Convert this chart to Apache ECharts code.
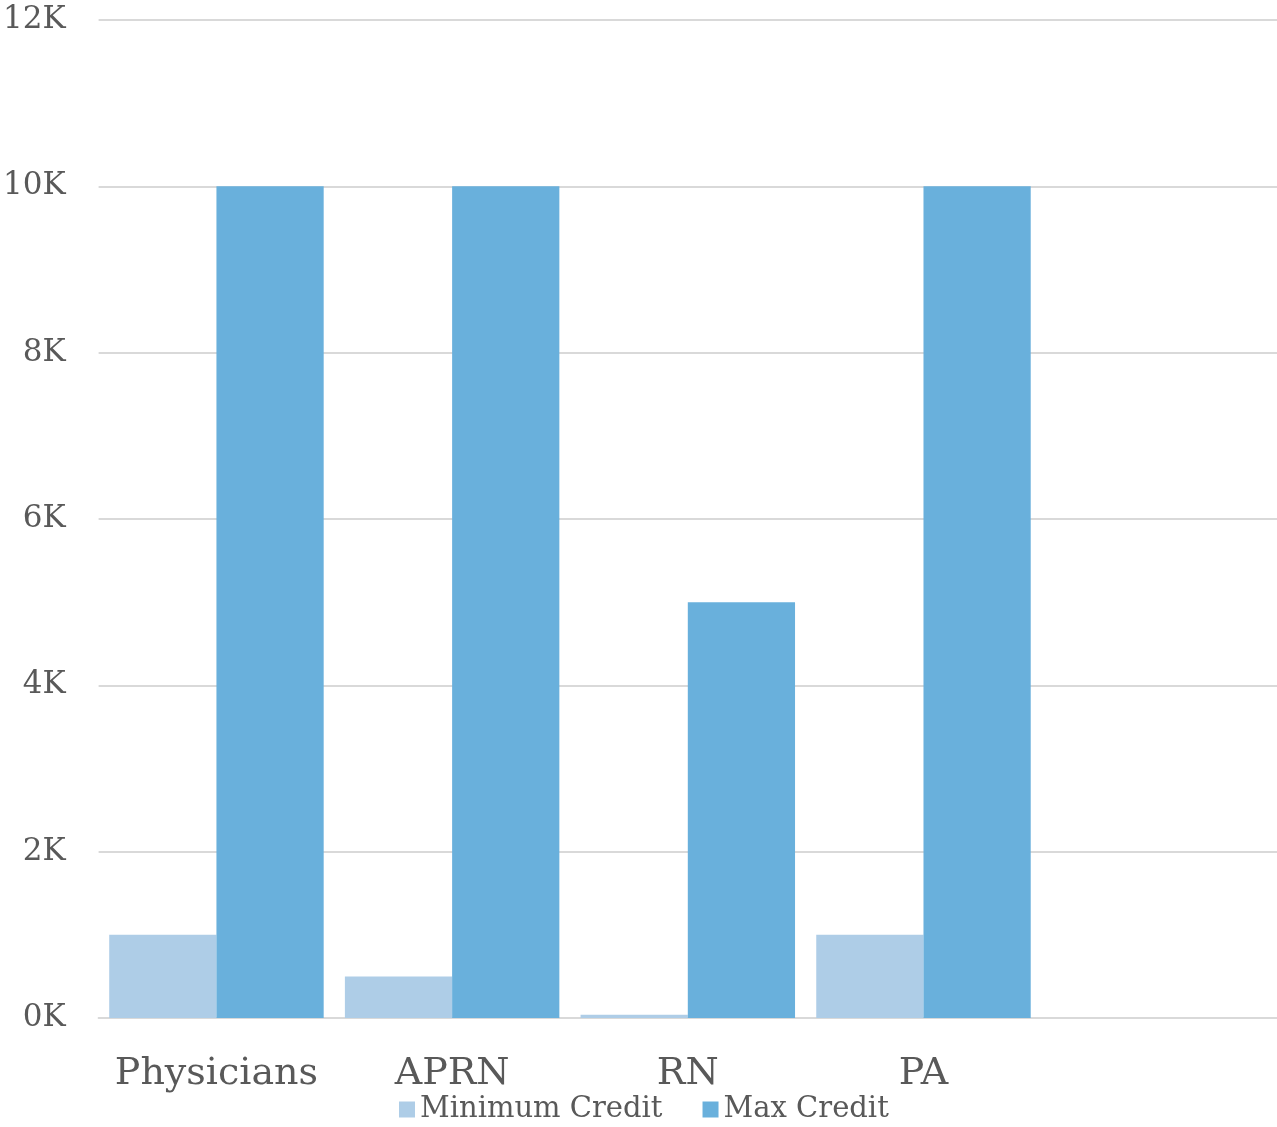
<!DOCTYPE html>
<html><head><meta charset="utf-8">
<script src="https://cdn.jsdelivr.net/npm/echarts@6/dist/echarts.min.js"></script>
<style>html,body{margin:0;padding:0;background:#fff}#c{width:1277px;height:1127px}</style>
</head><body><div id="c"></div>
<script>
const categories = ['Physicians', 'APRN', 'RN', 'PA', ''];
const minCredit = [1000, 500, 40, 1000, null];
const maxCredit = [10000, 10000, 5000, 10000, null];
const yTicks = [0, 2000, 4000, 6000, 8000, 10000, 12000];

const chart = echarts.init(document.getElementById('c'));
const font = 'DejaVu Serif';
chart.setOption({
  animation: false,
  grid: { left: 98, right: 0, top: 20, bottom: 109, containLabel: false },
  legend: {
    data: ['Minimum Credit', 'Max Credit'],
    bottom: 3, left: 399, padding: 0,
    itemWidth: 16, itemHeight: 16, itemGap: 40,
    icon: 'rect',
    textStyle: { fontFamily: font, fontSize: 29, color: '#595959' }
  },
  xAxis: {
    type: 'category', data: categories,
    axisLine: { lineStyle: { color: '#d9d9d9', width: 2 } },
    axisTick: { show: false },
    axisLabel: { fontFamily: font, fontSize: 38, color: '#595959', margin: 37, interval: 0 }
  },
  yAxis: {
    type: 'value', min: 0, max: 12000, interval: 2000,
    axisLine: { show: false }, axisTick: { show: false },
    splitLine: { lineStyle: { color: '#d9d9d9', width: 2 } },
    axisLabel: { fontFamily: font, fontSize: 31, color: '#595959', margin: 33,
      formatter: v => yTicks.includes(v) ? (v / 1000) + 'K' : '' }
  },
  series: [
    { name: 'Minimum Credit', type: 'bar', data: minCredit, barGap: '0%', barCategoryGap: '9%',
      itemStyle: { color: '#aecde7' } },
    { name: 'Max Credit', type: 'bar', data: maxCredit, barGap: '0%', barCategoryGap: '9%',
      itemStyle: { color: '#69b0dc' } }
  ]
});
</script></body></html>
